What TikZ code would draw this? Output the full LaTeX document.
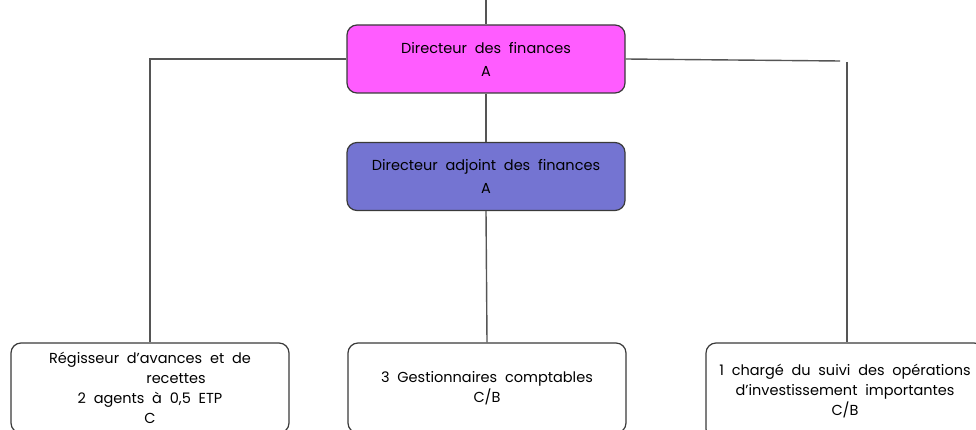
\documentclass[tikz,border=0pt]{standalone}
\usepackage{fontspec}
\setmainfont{Poppins}[WordSpace=2]
\definecolor{dirpink}{HTML}{FF5CFF}
\definecolor{dirblue}{HTML}{7474D2}
\definecolor{boxline}{HTML}{3A3A3A}
\definecolor{linkgray}{HTML}{555555}

\begin{document}
\begin{tikzpicture}[x=1pt, y=-1pt, font=\fontsize{14.5}{23}\selectfont]
    \tikzset{
      poste/.style={draw=boxline, line width=1.2pt, rounded corners=10pt, align=center,
        minimum width=278pt, minimum height=68pt, inner sep=0pt},
      agent/.style={poste, minimum height=90pt, font=\fontsize{14.5}{20}\selectfont},
      lien/.style={draw=linkgray, line width=1.4pt}
    }
    \useasboundingbox (0,0) rectangle (976,430);

    \node[poste, fill=dirpink] (dirfin) at (486, 59) {Directeur des finances\\A};
    \node[poste, fill=dirblue] (adjoint) at (486, 176.5) {Directeur adjoint des finances\\A};

    \node[agent, fill=white] (regis) at (150, 388) {R\'egisseur d'avances et de\\\hspace*{52pt}recettes\\2 agents \`a 0,5 ETP\\C};
    \node[agent, fill=white] (gest) at (487, 388) {3 Gestionnaires comptables\\C/B};
    \node[agent, fill=white, minimum height=96pt] (charge) at (845, 391) {1 charg\'e du suivi des op\'erations\\d'investissement importantes\\C/B};

    \coordinate (haut) at (486, 0);
    \coordinate (rcoupe) at (840, 61);
    \coordinate (rtop) at (847, 62);

    \draw[lien] (haut) -- (dirfin.north);
    \draw[lien] (dirfin.south) -- (adjoint.north);
    \draw[lien] (adjoint.south) -- (gest.north);
    \draw[lien] (dirfin.west) -| (regis.north);
    \draw[lien] (dirfin.east) -- (rcoupe);
    \draw[lien] (rtop) -- (rtop |- charge.north);
\end{tikzpicture}
\end{document}
